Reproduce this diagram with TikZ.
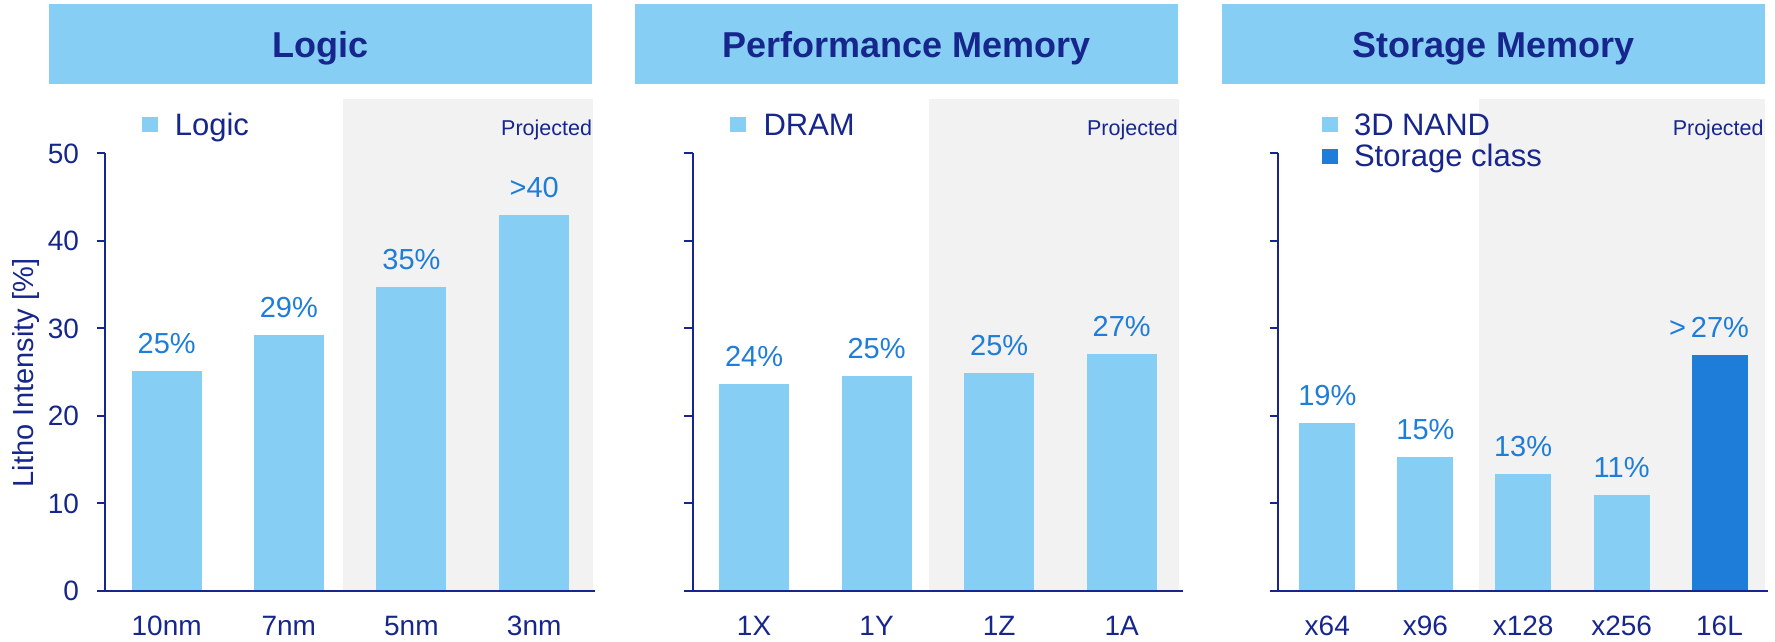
\documentclass[tikz,border=0pt]{standalone}
\usepackage{fontspec}
\setmainfont{Liberation Sans}
\definecolor{lblue}{HTML}{87CEF5}
\definecolor{navy}{HTML}{16268C}
\definecolor{vblue}{HTML}{1E7DD8}
\definecolor{dblue}{HTML}{1E7DD8}
\definecolor{greybg}{HTML}{F2F2F2}
\begin{document}
\begin{tikzpicture}[x=1pt,y=-1pt,
  txt/.style={inner sep=0pt, outer sep=0pt, text=navy},
  hdrtext/.style={txt, anchor=base, font=\fontsize{36}{40}\selectfont\bfseries},
  legtext/.style={txt, anchor=base west, font=\fontsize{31}{34}\selectfont},
  projtext/.style={txt, anchor=base east, font=\fontsize{21.5}{24}\selectfont},
  vallabel/.style={inner sep=0pt, anchor=base, text=vblue, font=\fontsize{29}{32}\selectfont},
  catlabel/.style={txt, anchor=base, font=\fontsize{28}{30}\selectfont},
  ticklabel/.style={txt, anchor=base east, font=\fontsize{28}{30}\selectfont},
  axisline/.style={draw=navy, line width=2pt},
]
\useasboundingbox (0,0) rectangle (1775,641);

% ---------- headers ----------
\fill[lblue] (49,4) rectangle (592,84);
\node[hdrtext] (h1) at (320.5,57.3) {Logic};
\fill[lblue] (634.5,4) rectangle (1177.9,84);
\node[hdrtext] (h2) at (906.2,57.3) {Performance Memory};
\fill[lblue] (1222,4) rectangle (1765,84);
\node[hdrtext] (h3) at (1493.5,57.3) {Storage Memory};

% ---------- projected backgrounds ----------
\fill[greybg] (342.8,99) rectangle (593.1,590.7);
\fill[greybg] (929.2,99) rectangle (1178.7,590.7);
\fill[greybg] (1479.4,99) rectangle (1765,590.7);

\node[projtext] (p1) at (592,135) {Projected};
\node[projtext] (p2) at (1177.9,135) {Projected};
\node[projtext] (p3) at (1763.6,135) {Projected};

% ---------- legends ----------
\fill[lblue] (142.3,117) rectangle (158.2,132);
\node[legtext] (l1) at (174.8,135) {Logic};
\fill[lblue] (729.8,117) rectangle (745.9,132);
\node[legtext] (l2) at (763.5,135) {DRAM};
\fill[lblue] (1322.1,117) rectangle (1337.9,132);
\node[legtext] (l3) at (1354,135) {3D NAND};
\fill[dblue] (1322.1,149) rectangle (1337.9,164);
\node[legtext] (l4) at (1354,166) {Storage class};

% ---------- bars panel 1 ----------
\foreach \cx/\top/\val/\cat [count=\i] in {166.7/371/25\%/10nm, 288.8/335/29\%/7nm, 411.4/287/35\%/5nm, 534.2/215/>40/3nm}{
  \fill[lblue] ({\cx-35},590.7) rectangle ({\cx+35},\top);
  \node[vallabel] (a\i) at (\cx,{\top-17.7}) {\val};
  \node[catlabel] (ac\i) at (\cx,635.5) {\cat};
}
% ---------- bars panel 2 ----------
\foreach \cx/\top/\val/\cat [count=\i] in {754.1/384.3/24\%/1X, 876.6/376.3/25\%/1Y, 999.2/372.7/25\%/1Z, 1121.7/354.3/27\%/1A}{
  \fill[lblue] ({\cx-35},590.7) rectangle ({\cx+35},\top);
  \node[vallabel] (b\i) at (\cx,{\top-17.7}) {\val};
  \node[catlabel] (bc\i) at (\cx,635.5) {\cat};
}
% ---------- bars panel 3 ----------
\foreach \cx/\top/\val/\cat [count=\i] in {1327.3/422.7/19\%/x64, 1425.4/457.3/15\%/x96, 1523.1/474/13\%/x128, 1621.6/495/11\%/x256}{
  \fill[lblue] ({\cx-28},590.7) rectangle ({\cx+28},\top);
  \node[vallabel] (c\i) at (\cx,{\top-17.7}) {\val};
  \node[catlabel] (cc\i) at (\cx,635.5) {\cat};
}
\fill[dblue] ({1719.5-28},590.7) rectangle ({1719.5+28},355);
\node[vallabel] (c5) at (1709,{355-17.7}) {>\kern5pt27\%};
\node[catlabel] (cc5) at (1719.5,635.5) {16L};

% ---------- axes ----------
\foreach \ax/\tl/\be in {104.8/96.9/595.1, 692.7/683.9/1182.5, 1277.7/1269.7/1768.4}{
  \draw[axisline] (\ax,153.2) -- (\ax,590.7);
  \foreach \v in {1,...,5}{
    \draw[axisline] (\tl,{590.7-87.5*\v}) -- (\ax,{590.7-87.5*\v});
  }
  \draw[axisline] (\tl,590.7) -- (\be,590.7);
}
\foreach \v in {0,...,5}{
  \node[ticklabel] (t\v) at (79,{600.7-87.5*\v}) {\the\numexpr\v*10\relax};
}
\node[txt, rotate=90, font=\fontsize{29}{32}\selectfont] (ytitle) at (25.7,373) {Litho Intensity [\%]};
\end{tikzpicture}
\end{document}
